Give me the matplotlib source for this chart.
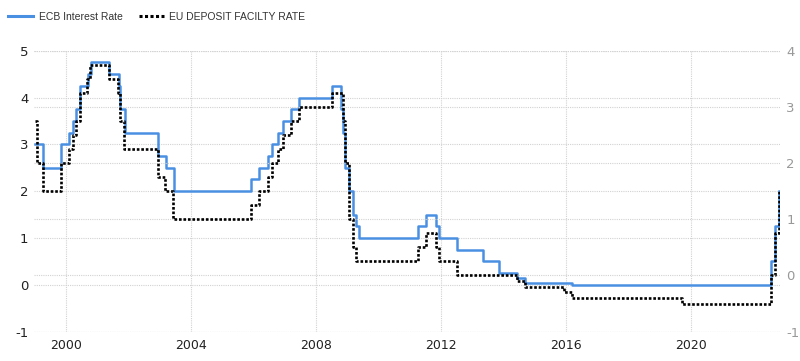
import matplotlib
matplotlib.use("Agg")
import matplotlib.pyplot as plt
import matplotlib.dates as mdates
import pandas as pd
from matplotlib.lines import Line2D

plt.rcParams["axes.unicode_minus"] = False

# ECB main refinancing rate (change dates, left axis)
ecb_dates = [
    "1999-01-01", "1999-04-09", "1999-11-05", "2000-02-04", "2000-03-17", "2000-04-28",
    "2000-06-09", "2000-09-06", "2000-10-11", "2001-05-15", "2001-09-05", "2001-09-18",
    "2001-11-14", "2002-12-06", "2003-03-12", "2003-06-09", "2005-12-06", "2006-03-08",
    "2006-06-15", "2006-08-09", "2006-10-11", "2006-12-13", "2007-03-14", "2007-06-13",
    "2008-07-09", "2008-10-15", "2008-11-12", "2008-12-10", "2009-01-21", "2009-03-11",
    "2009-04-08", "2009-05-13", "2011-04-13", "2011-07-13", "2011-11-09", "2011-12-14",
    "2012-07-11", "2013-05-08", "2013-11-13", "2014-06-11", "2014-09-10", "2016-03-16",
    "2022-07-27", "2022-09-14", "2022-11-02",
]
ecb_rate = [
    3.00, 2.50, 3.00, 3.25, 3.50, 3.75,
    4.25, 4.50, 4.75, 4.50, 4.25, 3.75,
    3.25, 2.75, 2.50, 2.00, 2.25, 2.50,
    2.75, 3.00, 3.25, 3.50, 3.75, 4.00,
    4.25, 3.75, 3.25, 2.50, 2.00, 1.50,
    1.25, 1.00, 1.25, 1.50, 1.25, 1.00,
    0.75, 0.50, 0.25, 0.15, 0.05, 0.00,
    0.50, 1.25, 2.00,
]

# EU deposit facility rate (change dates, right axis)
dep_dates = [
    "1999-01-01", "1999-01-22", "1999-04-09", "1999-11-05", "2000-02-04", "2000-03-17",
    "2000-04-28", "2000-06-09", "2000-09-01", "2000-10-06", "2001-05-11", "2001-08-31",
    "2001-09-18", "2001-11-09", "2002-12-06", "2003-03-07", "2003-06-06", "2005-12-06",
    "2006-03-08", "2006-06-15", "2006-08-09", "2006-10-11", "2006-12-13", "2007-03-14",
    "2007-06-13", "2008-07-09", "2008-11-12", "2008-12-10", "2009-01-21", "2009-03-11",
    "2009-04-08", "2011-04-13", "2011-07-13", "2011-11-09", "2011-12-14", "2012-07-11",
    "2014-06-11", "2014-09-10", "2015-12-09", "2016-03-16", "2019-09-18", "2022-07-27",
    "2022-09-14", "2022-11-02",
]
dep_rate = [
    2.75, 2.00, 1.50, 2.00, 2.25, 2.50,
    2.75, 3.25, 3.50, 3.75, 3.50, 3.25,
    2.75, 2.25, 1.75, 1.50, 1.00, 1.25,
    1.50, 1.75, 2.00, 2.25, 2.50, 2.75,
    3.00, 3.25, 2.75, 2.00, 1.00, 0.50,
    0.25, 0.50, 0.75, 0.50, 0.25, 0.00,
    -0.10, -0.20, -0.30, -0.40, -0.50, 0.00,
    0.75, 1.50,
]

BLUE = "#4a90e2"
GRID = "#d2d2d2"

fig = plt.figure(figsize=(8.0, 3.61), dpi=100)
ax = fig.add_axes([0.0425, 0.0812, 0.9319, 0.7784])
ax2 = ax.twinx()

ax.plot(pd.to_datetime(ecb_dates), ecb_rate, color=BLUE, lw=1.8,
        drawstyle="steps-post", zorder=3)
ax2.plot(pd.to_datetime(dep_dates), dep_rate, color="black", lw=1.9,
         linestyle=(0, (1, 0.7)), drawstyle="steps-post", zorder=4)

ax.set_xlim(pd.Timestamp("1998-12-20"), pd.Timestamp("2022-11-04"))
ax.set_ylim(-1, 5)
ax2.set_ylim(-1, 4)
ax.set_yticks(range(-1, 6))
ax2.set_yticks(range(-1, 5))

ax.xaxis.set_major_locator(mdates.YearLocator(4))
ax.xaxis.set_major_formatter(mdates.DateFormatter("%Y"))

for a in (ax, ax2):
    for s in a.spines.values():
        s.set_visible(False)
    a.tick_params(length=0)
ax.grid(True, color=GRID, linestyle=(0, (1, 1)), lw=0.8)
ax2.grid(True, axis="y", color=GRID, linestyle=(0, (1, 1)), lw=0.8)
ax.set_axisbelow(True)
ax2.set_axisbelow(True)

ax.tick_params(axis="y", labelsize=9.5, labelcolor="#222222", pad=4)
ax.tick_params(axis="x", labelsize=9, labelcolor="#222222", pad=5)
ax2.tick_params(axis="y", labelsize=9.5, labelcolor="#999999", pad=5)

handles = [
    Line2D([], [], color=BLUE, lw=2.2),
    Line2D([], [], color="black", lw=2.2, linestyle=(0, (1, 0.8))),
]
fig.legend(handles, ["ECB Interest Rate", "EU DEPOSIT FACILTY RATE"],
           loc="upper left", bbox_to_anchor=(0.0, 0.99), ncol=2, frameon=False,
           handlelength=2.4, handletextpad=0.5, columnspacing=1.6,
           labelcolor="#333333", borderaxespad=0.4,
           prop={"family": "Liberation Sans", "size": 7.5})

fig.savefig("out.png", dpi=100)
